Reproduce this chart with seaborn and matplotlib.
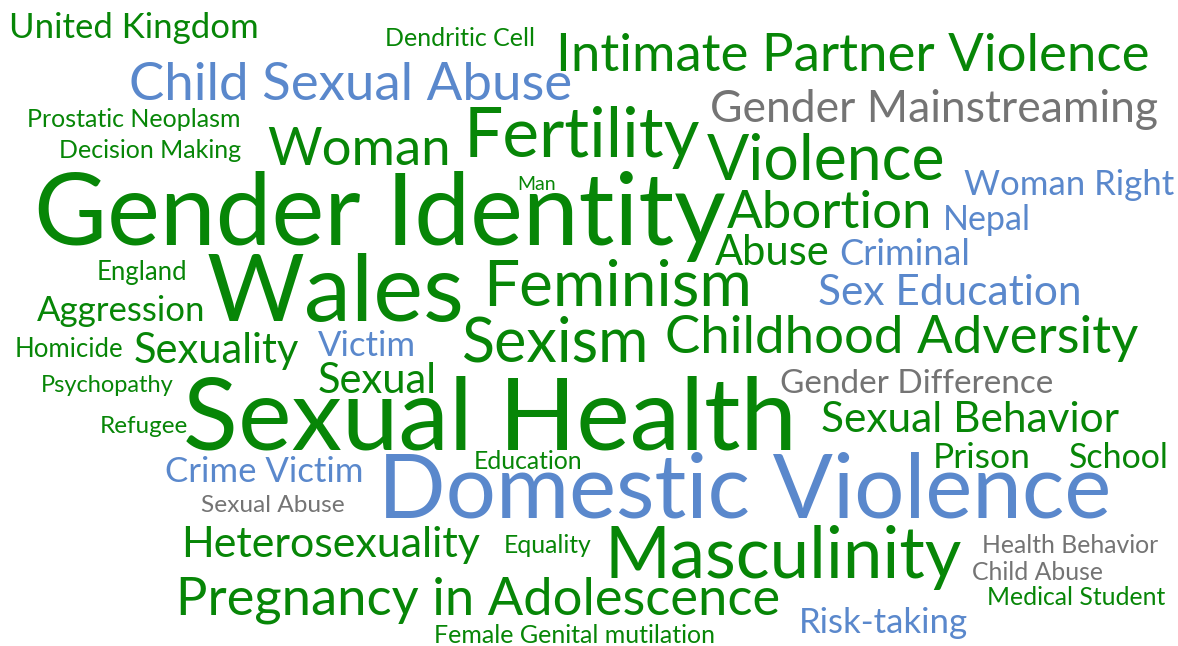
import matplotlib
matplotlib.use("Agg")
import matplotlib.pyplot as plt
import seaborn as sns

# keywords, relative weight (font size) and colour group
words = ["United Kingdom", "Dendritic Cell", "Child Sexual Abuse", "Intimate Partner Violence",
         "Gender Mainstreaming", "Prostatic Neoplasm", "Decision Making", "Woman", "Fertility",
         "Violence", "Woman Right", "Man", "Gender Identity", "Abortion", "Nepal", "Abuse",
         "Criminal", "England", "Wales", "Feminism", "Sex Education", "Aggression", "Sexism",
         "Childhood Adversity", "Homicide", "Sexuality", "Victim", "Psychopathy", "Sexual",
         "Sexual Health", "Gender Difference", "Refugee", "Sexual Behavior", "Prison", "School",
         "Crime Victim", "Education", "Domestic Violence", "Sexual Abuse", "Heterosexuality",
         "Equality", "Masculinity", "Health Behavior", "Child Abuse", "Pregnancy in Adolescence",
         "Medical Student", "Risk-taking", "Female Genital mutilation"]
weight = [25, 18, 38, 38, 32, 18, 18, 38, 50, 45, 25, 14, 72, 38, 24.5, 30, 26, 18.5, 68, 46,
          30.5, 25, 44, 38, 18.5, 30, 25, 17, 30, 73, 24, 17.5, 30.5, 25.5, 24.5, 25, 17.8, 64,
          17.6, 31, 17.8, 51, 17.8, 17.8, 37.8, 17.8, 25, 18]
group = ["g", "g", "b", "g", "k", "g", "g", "g", "g", "g", "b", "g", "g", "g", "b", "g", "b",
         "g", "g", "g", "b", "g", "g", "g", "g", "g", "b", "g", "g", "g", "k", "g", "g", "g",
         "g", "b", "g", "b", "k", "g", "g", "g", "k", "k", "g", "g", "b", "g"]

# cloud layout: word centre x and baseline y, in image pixels
pos_x = [134, 460, 351, 853, 934, 134, 150, 359, 582, 826, 1069, 537, 380, 830, 987, 772, 905,
         142, 335, 618, 950, 121, 556, 902, 69, 216, 367, 107, 377, 490, 917, 144, 970, 982,
         1119, 264, 528, 745, 273, 331, 548, 783, 1070, 1038, 478, 1076, 883, 574]
pos_y = [38, 46, 100, 71, 122, 127, 158, 165, 157, 180, 195, 190, 245, 228, 230, 265, 265, 280,
         321, 305, 305, 321, 362, 353, 357, 363, 356, 392, 393, 450, 393, 433, 432, 468, 468,
         482, 469, 518, 512, 557, 553, 578, 553, 580, 615, 605, 633, 643]

palette = {"g": "#078607", "b": "#5a88cc", "k": "#747474"}

sns.set_theme(style="white")
plt.rcParams["font.family"] = ["Lato", "DejaVu Sans"]

fig = plt.figure(figsize=(11.78, 6.46), dpi=100)
ax = fig.add_axes([0, 0, 1, 1])
ax.set_xlim(0, 1178)
ax.set_ylim(646, 0)
ax.axis("off")

for w, s, g, x, y in zip(words, weight, group, pos_x, pos_y):
    ax.text(x, y, w, fontsize=s, color=palette[g], ha="center", va="baseline")

fig.savefig("out.png", dpi=100, facecolor="white")
